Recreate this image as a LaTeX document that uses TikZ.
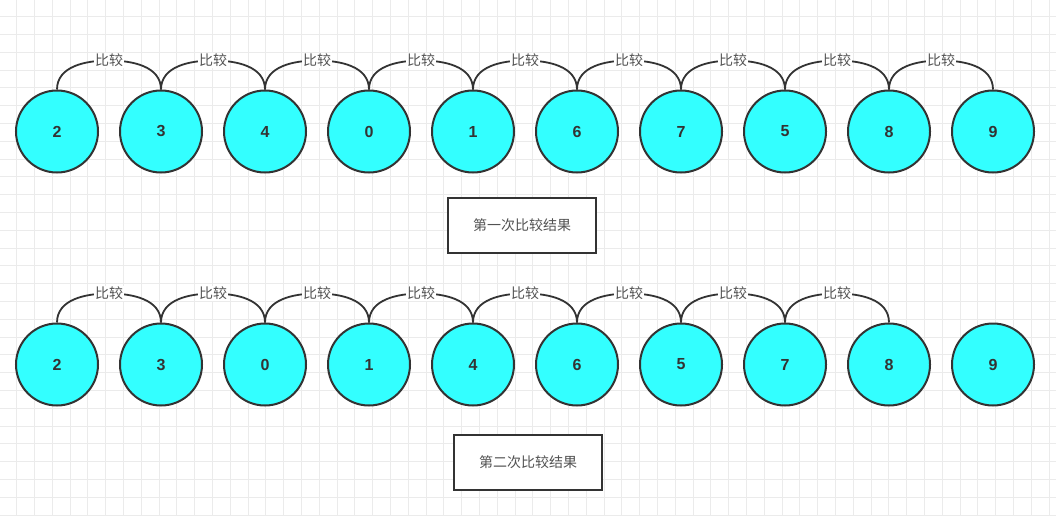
\documentclass[tikz,border=0pt]{standalone}
\usepackage{fontspec}
\setmainfont{Liberation Sans}
\newfontfamily\cjk{Noto Sans CJK SC}
\definecolor{ballfill}{HTML}{33FFFF}
\definecolor{ink}{HTML}{333333}
\definecolor{gridline}{HTML}{EBEBEB}
\tikzset{
  ball/.style={circle, draw=ink, line width=2pt, fill=ballfill, minimum size=82pt,
    inner sep=0pt, text=ink, font=\fontsize{16}{16}\selectfont\bfseries},
  cmp/.style={fill=white, inner sep=1pt, text=ink!85, font=\cjk\fontsize{14}{14}\selectfont},
  resbox/.style={draw=ink, line width=2pt, fill=white, minimum width=148pt,
    minimum height=55pt, text=ink!85, font=\cjk\fontsize{14}{14}\selectfont},
}
\begin{document}
\begin{tikzpicture}[x=1pt,y=-1pt]
    \useasboundingbox (0,0) rectangle (1056,516);
    \fill[white] (0,0) rectangle (1056,516);
    \foreach \k in {0,...,58}
      \draw[gridline, line width=1pt] ({16.7+17.8*\k},0) -- ({16.7+17.8*\k},516);
    \foreach \k in {0,...,28}
      \draw[gridline, line width=1pt] (0,{16.7+17.8*\k}) -- (1056,{16.7+17.8*\k});

    % first pass
    \foreach \v [count=\i from 0] in {2,3,4,0,1,6,7,5,8,9}
      \node[ball] (a\i) at ({57+104*\i},131.5) {\v};
    \foreach \i [evaluate=\i as \j using int(\i+1)] in {0,...,8}
      \draw[ink, line width=1.8pt] (a\i.north) to[out=90,in=180] ({109+104*\i},60.5)
        node[cmp] (la\i) {比较} to[out=0,in=90] (a\j.north);
    \node[resbox] (r1) at (522,225.5) {第一次比较结果};

    % second pass
    \foreach \v [count=\i from 0] in {2,3,0,1,4,6,5,7,8,9}
      \node[ball] (b\i) at ({57+104*\i},364.5) {\v};
    \foreach \i [evaluate=\i as \j using int(\i+1)] in {0,...,7}
      \draw[ink, line width=1.8pt] (b\i.north) to[out=90,in=180] ({109+104*\i},293.5)
        node[cmp] (lb\i) {比较} to[out=0,in=90] (b\j.north);
    \node[resbox] (r2) at (528,462.5) {第二次比较结果};
\end{tikzpicture}
\end{document}
